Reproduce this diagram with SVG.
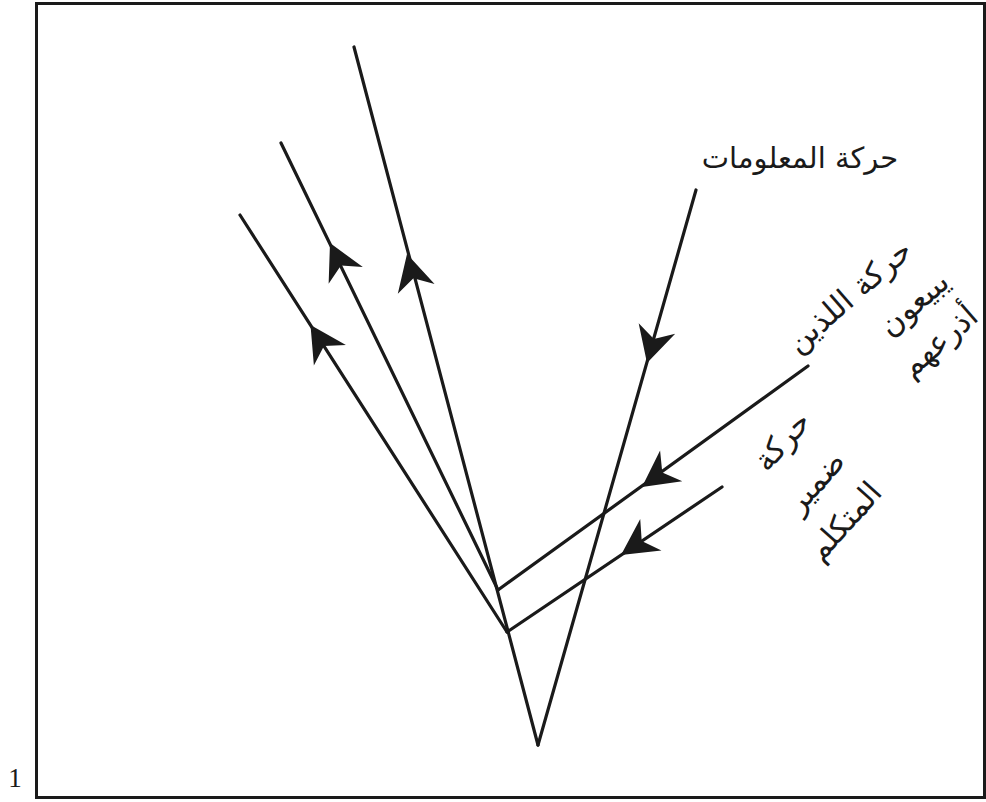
<svg xmlns="http://www.w3.org/2000/svg" width="986" height="802" viewBox="0 0 986 802">
<style>
.ln{stroke:#1a1a1a;stroke-width:3.2;fill:none;stroke-linecap:round;stroke-linejoin:round}
.ar{fill:#1a1a1a}
.lbl{font-family:"DejaVu Sans","Noto Sans",sans-serif;font-size:29px;fill:#1a1a1a}
.rl{font-size:31px}
</style>
<defs>
<path id="ah" d="M0,0 L-36,-19 L-25,0 L-36,19 Z"/>
</defs>
<rect x="0" y="0" width="986" height="802" fill="#fff"/>
<rect x="36.5" y="3.5" width="948" height="794" fill="none" stroke="#1a1a1a" stroke-width="3"/>
<text x="15" y="787" font-family="Liberation Serif,serif" font-size="27" text-anchor="middle" fill="#1a1a1a">1</text>
<g id="connectors">
<line class="ln" x1="240" y1="215" x2="507" y2="632"/>
<line class="ln" x1="281" y1="143" x2="498" y2="590"/>
<line class="ln" x1="354" y1="47" x2="538" y2="745"/>
<line class="ln" x1="696" y1="190" x2="538" y2="745"/>
<line class="ln" x1="808" y1="366" x2="498" y2="590"/>
<line class="ln" x1="722" y1="487" x2="507" y2="632"/>
<use href="#ah" class="ar" transform="translate(310.5,325) rotate(-122.6)"/>
<use href="#ah" class="ar" transform="translate(330,243) rotate(-115.9)"/>
<use href="#ah" class="ar" transform="translate(407,254) rotate(-104.8)"/>
<use href="#ah" class="ar" transform="translate(647,363) rotate(106)"/>
<use href="#ah" class="ar" transform="translate(642,487) rotate(144.2)"/>
<use href="#ah" class="ar" transform="translate(621,555) rotate(146)"/>
</g>
<g id="label-info">
<text class="lbl" x="800" y="168" text-anchor="middle">حركة المعلومات</text>
</g>
<g id="label-sellers" transform="translate(856,304) rotate(-41)">
<text class="lbl rl" x="0" y="0" text-anchor="middle">حركة اللذين</text>
<text class="lbl rl" x="44" y="48" text-anchor="middle">يبيعون</text>
<text class="lbl rl" x="38" y="93" text-anchor="middle">أذرعهم</text>
</g>
<g id="label-conscience" transform="translate(790,448) rotate(-48)">
<text class="lbl rl" x="0" y="0" text-anchor="middle">حركة</text>
<text class="lbl rl" x="-8" y="52" text-anchor="middle">ضمير</text>
<text class="lbl rl" x="-18" y="100" text-anchor="middle">المتكلم</text>
</g>
</svg>
